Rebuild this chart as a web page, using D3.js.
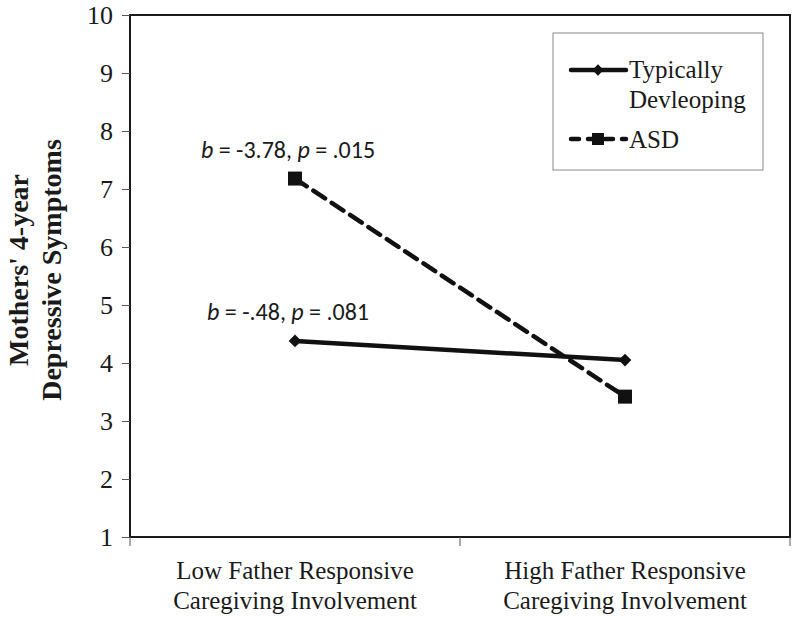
<!DOCTYPE html>
<html><head><meta charset="utf-8">
<script src="https://cdn.jsdelivr.net/npm/d3@7"></script>
<style>body{margin:0;background:#fff}</style>
</head><body>
<svg id="c" width="800" height="618"></svg>
<script>
const categories = ["Low Father Responsive|Caregiving Involvement", "High Father Responsive|Caregiving Involvement"];
const typicalValues = [4.38, 4.05];
const asdValues = [7.18, 3.42];
const seriesNames = ["Typically|Devleoping", "ASD"];
const yTicks = [1,2,3,4,5,6,7,8,9,10];
const annotations = [
  {series: 1, b: "-3.78", p: ".015"},
  {series: 0, b: "-.48", p: ".081"}
];

const svg = d3.select("#c");
const m = {l:130, t:15, r:790, b:537};
const x = d3.scaleBand().domain(categories).range([m.l, m.r]);
const y = d3.scaleLinear().domain([1,10]).range([m.b, m.t]);
const serif = "'Liberation Serif', 'Times New Roman', serif";
const sans = "Carlito, 'Open Sans', 'Liberation Sans', sans-serif";

// frame
svg.append("rect").attr("x", m.l).attr("y", m.t).attr("width", m.r-m.l).attr("height", m.b-m.t)
  .attr("fill","none").attr("stroke","#1a1a1a").attr("stroke-width",2);

// y axis
const ya = svg.append("g").attr("transform",`translate(${m.l},0)`)
  .call(d3.axisLeft(y).tickValues(yTicks).tickSize(8).tickPadding(9).tickFormat(d3.format("d")));
ya.select(".domain").remove();
ya.selectAll("line").attr("stroke","#555");
ya.selectAll("text").attr("font-family",serif).attr("font-size",26).attr("fill","#1a1a1a");

// x axis ticks
const xt = svg.append("g");
[m.l, x(categories[1]), m.r].forEach(v=>{
  xt.append("line").attr("x1",v).attr("x2",v).attr("y1",m.b).attr("y2",m.b+9).attr("stroke","#555");
});
const cx = c => x(c)+x.bandwidth()/2;
categories.forEach(c=>{
  const t = svg.append("text").attr("text-anchor","middle")
    .attr("font-family",serif).attr("font-size",25).attr("fill","#1a1a1a");
  c.split("|").forEach((ln,i)=> t.append("tspan").attr("x", cx(c)).attr("y", 579+i*30).text(ln));
});

// y title
const yt = svg.append("text").attr("transform","translate(0,270) rotate(-90)")
  .attr("text-anchor","middle").attr("font-family",serif).attr("font-weight","bold").attr("font-size",28).attr("fill","#1a1a1a");
yt.append("tspan").attr("x",0).attr("y",28).text("Mothers' 4-year");
yt.append("tspan").attr("x",0).attr("y",61).text("Depressive Symptoms");

const line = d3.line().x((d,i)=>cx(categories[i])).y(d=>y(d));
const col = "#111";

// series lines
svg.append("path").datum(typicalValues).attr("d",line).attr("fill","none").attr("stroke",col).attr("stroke-width",4.5);
svg.append("path").datum(asdValues).attr("d",line).attr("fill","none").attr("stroke",col).attr("stroke-width",4.5)
  .attr("stroke-dasharray","14,8").attr("stroke-linecap","round");

const diamond = d3.symbol().type(d3.symbolSquare).size(81);
typicalValues.forEach((v,i)=>{
  svg.append("path").attr("d",diamond).attr("transform",`translate(${cx(categories[i])},${y(v)}) rotate(45)`).attr("fill",col);
});
asdValues.forEach((v,i)=>{
  svg.append("rect").attr("x",cx(categories[i])-7).attr("y",y(v)-7).attr("width",14).attr("height",14).attr("fill",col);
});

// annotations
annotations.forEach((a,k)=>{
  const vals = a.series===1 ? asdValues : typicalValues;
  const t = svg.append("text").attr("x", cx(categories[0])-7).attr("y", y(vals[0])-21)
    .attr("text-anchor","middle").attr("font-family",sans).attr("font-size",24).attr("fill","#1a1a1a");
  t.append("tspan").attr("font-style","italic").text("b");
  t.append("tspan").text(` = ${a.b}, `);
  t.append("tspan").attr("font-style","italic").text("p");
  t.append("tspan").text(` = ${a.p}`);
});

// legend
const lg = svg.append("g");
lg.append("rect").attr("x",553).attr("y",33).attr("width",210).attr("height",137).attr("fill","#fff").attr("stroke","#888").attr("stroke-width",1);
const lx1 = 571, lx2 = 626;
lg.append("line").attr("x1",lx1).attr("x2",lx2).attr("y1",70).attr("y2",70).attr("stroke",col).attr("stroke-width",4.5).attr("stroke-linecap","round");
lg.append("path").attr("d",d3.symbol().type(d3.symbolSquare).size(64)).attr("transform","translate(598,70) rotate(45)").attr("fill",col);
const lt = lg.append("text").attr("font-family",serif).attr("font-size",25).attr("fill","#1a1a1a");
seriesNames[0].split("|").forEach((s,i)=> lt.append("tspan").attr("x",629).attr("y",78+i*30).text(s));
lg.append("line").attr("x1",lx1).attr("x2",lx2).attr("y1",139).attr("y2",139).attr("stroke",col).attr("stroke-width",4.5)
  .attr("stroke-dasharray","8,9").attr("stroke-linecap","round");
lg.append("rect").attr("x",592).attr("y",133).attr("width",12).attr("height",12).attr("fill",col);
lg.append("text").attr("x",629).attr("y",148).attr("font-family",serif).attr("font-size",25).attr("fill","#1a1a1a").text(seriesNames[1]);
</script>
</body></html>
